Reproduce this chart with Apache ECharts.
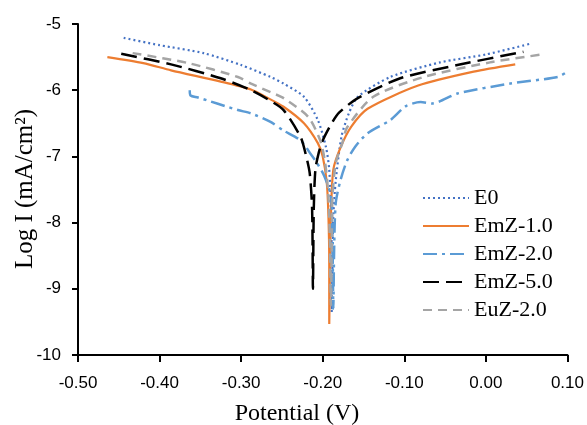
<!DOCTYPE html>
<html>
<head>
<meta charset="utf-8">
<script src="https://cdn.jsdelivr.net/npm/echarts@6/dist/echarts.min.js"></script>
<style>html,body{margin:0;padding:0;background:#fff;}#c{width:587px;height:425px;}</style>
</head>
<body>
<div id="c"></div>
<script>
var seriesNames = ['E0', 'EmZ-1.0', 'EmZ-2.0', 'EmZ-5.0', 'EuZ-2.0'];
var xTicks = [-0.5, 0.1, 0.1]; // min, max, interval
var yTicks = [-10, -5, 1];
var xTitle = 'Potential (V)';
var yTitle = 'Log I (mA/cm\u00B2)';

var E0 = [[-0.444,-5.21],[-0.400,-5.32],[-0.346,-5.44],[-0.300,-5.62],[-0.264,-5.80],[-0.248,-5.90],[-0.223,-6.10],[-0.206,-6.45],[-0.196,-6.86],[-0.192,-7.2],[-0.190,-7.8],[-0.189,-8.5],[-0.189,-9.35],[-0.188,-8.6],[-0.187,-7.9],[-0.184,-7.36],[-0.177,-6.7],[-0.168,-6.35],[-0.157,-6.1],[-0.117,-5.80],[-0.056,-5.58],[0.000,-5.46],[0.054,-5.30]];
var EmZ10 = [[-0.464,-5.50],[-0.420,-5.59],[-0.386,-5.70],[-0.325,-5.87],[-0.288,-5.99],[-0.267,-6.12],[-0.248,-6.25],[-0.223,-6.50],[-0.206,-6.80],[-0.200,-7.0],[-0.195,-7.4],[-0.193,-7.9],[-0.192,-8.6],[-0.192,-9.53],[-0.191,-8.6],[-0.190,-7.9],[-0.187,-7.2],[-0.178,-6.86],[-0.165,-6.55],[-0.145,-6.28],[-0.083,-5.93],[-0.015,-5.72],[0.036,-5.61]];
var EmZ20 = [[-0.363,-6.00],[-0.362,-6.08],[-0.353,-6.11],[-0.304,-6.30],[-0.288,-6.35],[-0.264,-6.48],[-0.248,-6.61],[-0.227,-6.76],[-0.215,-6.96],[-0.207,-7.10],[-0.198,-7.3],[-0.190,-7.6],[-0.188,-8.3],[-0.187,-9.3],[-0.186,-8.4],[-0.184,-7.7],[-0.178,-7.35],[-0.170,-7.06],[-0.160,-6.85],[-0.145,-6.65],[-0.117,-6.45],[-0.098,-6.24],[-0.080,-6.18],[-0.066,-6.20],[-0.035,-6.05],[0.030,-5.90],[0.088,-5.80],[0.100,-5.72]];
var EmZ50 = [[-0.447,-5.45],[-0.386,-5.61],[-0.325,-5.82],[-0.288,-6.00],[-0.267,-6.14],[-0.248,-6.30],[-0.227,-6.71],[-0.221,-6.96],[-0.216,-7.25],[-0.213,-7.8],[-0.212,-9.0],[-0.211,-7.8],[-0.209,-7.2],[-0.205,-6.95],[-0.200,-6.76],[-0.190,-6.52],[-0.180,-6.34],[-0.157,-6.12],[-0.105,-5.82],[-0.035,-5.62],[0.046,-5.42]];
var EuZ20 = [[-0.433,-5.44],[-0.365,-5.59],[-0.304,-5.80],[-0.288,-5.90],[-0.264,-6.03],[-0.248,-6.12],[-0.218,-6.40],[-0.203,-6.76],[-0.197,-7.1],[-0.193,-7.6],[-0.191,-8.4],[-0.190,-9.25],[-0.189,-8.4],[-0.188,-7.6],[-0.184,-7.1],[-0.176,-6.8],[-0.170,-6.56],[-0.138,-6.10],[-0.076,-5.80],[0.005,-5.58],[0.069,-5.46]];

var allData = [E0, EmZ10, EmZ20, EmZ50, EuZ20];
var colors = ['#4472C4', '#ED7D31', '#5B9BD5', '#000000', '#A5A5A5'];
var types = [[2,3], 'solid', [14,5,3,5], [16,7], [9,6]];
var widths = [2.2, 2.2, 2.5, 2.5, 2.5];

var chart = echarts.init(document.getElementById('c'), null, {renderer: 'canvas'});
var serif = '"Liberation Serif", "Times New Roman", serif';
var sans = '"Liberation Sans", Arial, sans-serif';
chart.setOption({
  animation: false,
  backgroundColor: '#fff',
  grid: {left: 78, right: 19, top: 24, bottom: 70, containLabel: false},
  legend: {
    orient: 'vertical', left: 417, top: 182,
    itemWidth: 46, itemHeight: 12, itemGap: 6,
    itemStyle: {opacity: 0},
    textStyle: {fontFamily: serif, fontSize: 22, color: '#000', lineHeight: 22},
    data: seriesNames
  },
  graphic: [
    {type: 'text', x: 297, y: 414, style: {text: xTitle, font: '24px ' + serif, fill: '#000', textAlign: 'center', textVerticalAlign: 'middle'}},
    {type: 'text', x: 25, y: 189, rotation: Math.PI / 2, style: {text: yTitle, font: '25px ' + serif, fill: '#000', textAlign: 'center', textVerticalAlign: 'middle'}}
  ],
  xAxis: {
    type: 'value', min: xTicks[0], max: xTicks[1], interval: xTicks[2],
    axisLine: {onZero: false, lineStyle: {color: '#000', width: 2}},
    axisTick: {show: true, inside: false, length: 7, lineStyle: {color: '#000', width: 2}},
    axisLabel: {fontFamily: sans, fontSize: 17, color: '#000', margin: 20,
      formatter: function (v) { if (Math.abs(v) < 1e-9) return '0.00'; return v.toFixed(2); }},
    splitLine: {show: false}
  },
  yAxis: {
    type: 'value', min: yTicks[0], max: yTicks[1], interval: yTicks[2],
    axisLine: {onZero: false, lineStyle: {color: '#000', width: 2}},
    axisTick: {show: true, inside: false, length: 6, lineStyle: {color: '#000', width: 2}},
    axisLabel: {fontFamily: sans, fontSize: 17, color: '#000', margin: 17},
    splitLine: {show: false}
  },
  series: seriesNames.map(function (n, i) {
    return {
      name: n, type: 'line', data: allData[i], showSymbol: false, symbol: 'none',
      smooth: 0.25,
      lineStyle: {color: colors[i], width: widths[i], type: types[i]},
      itemStyle: {color: colors[i]}
    };
  })
});
</script>
</body>
</html>
